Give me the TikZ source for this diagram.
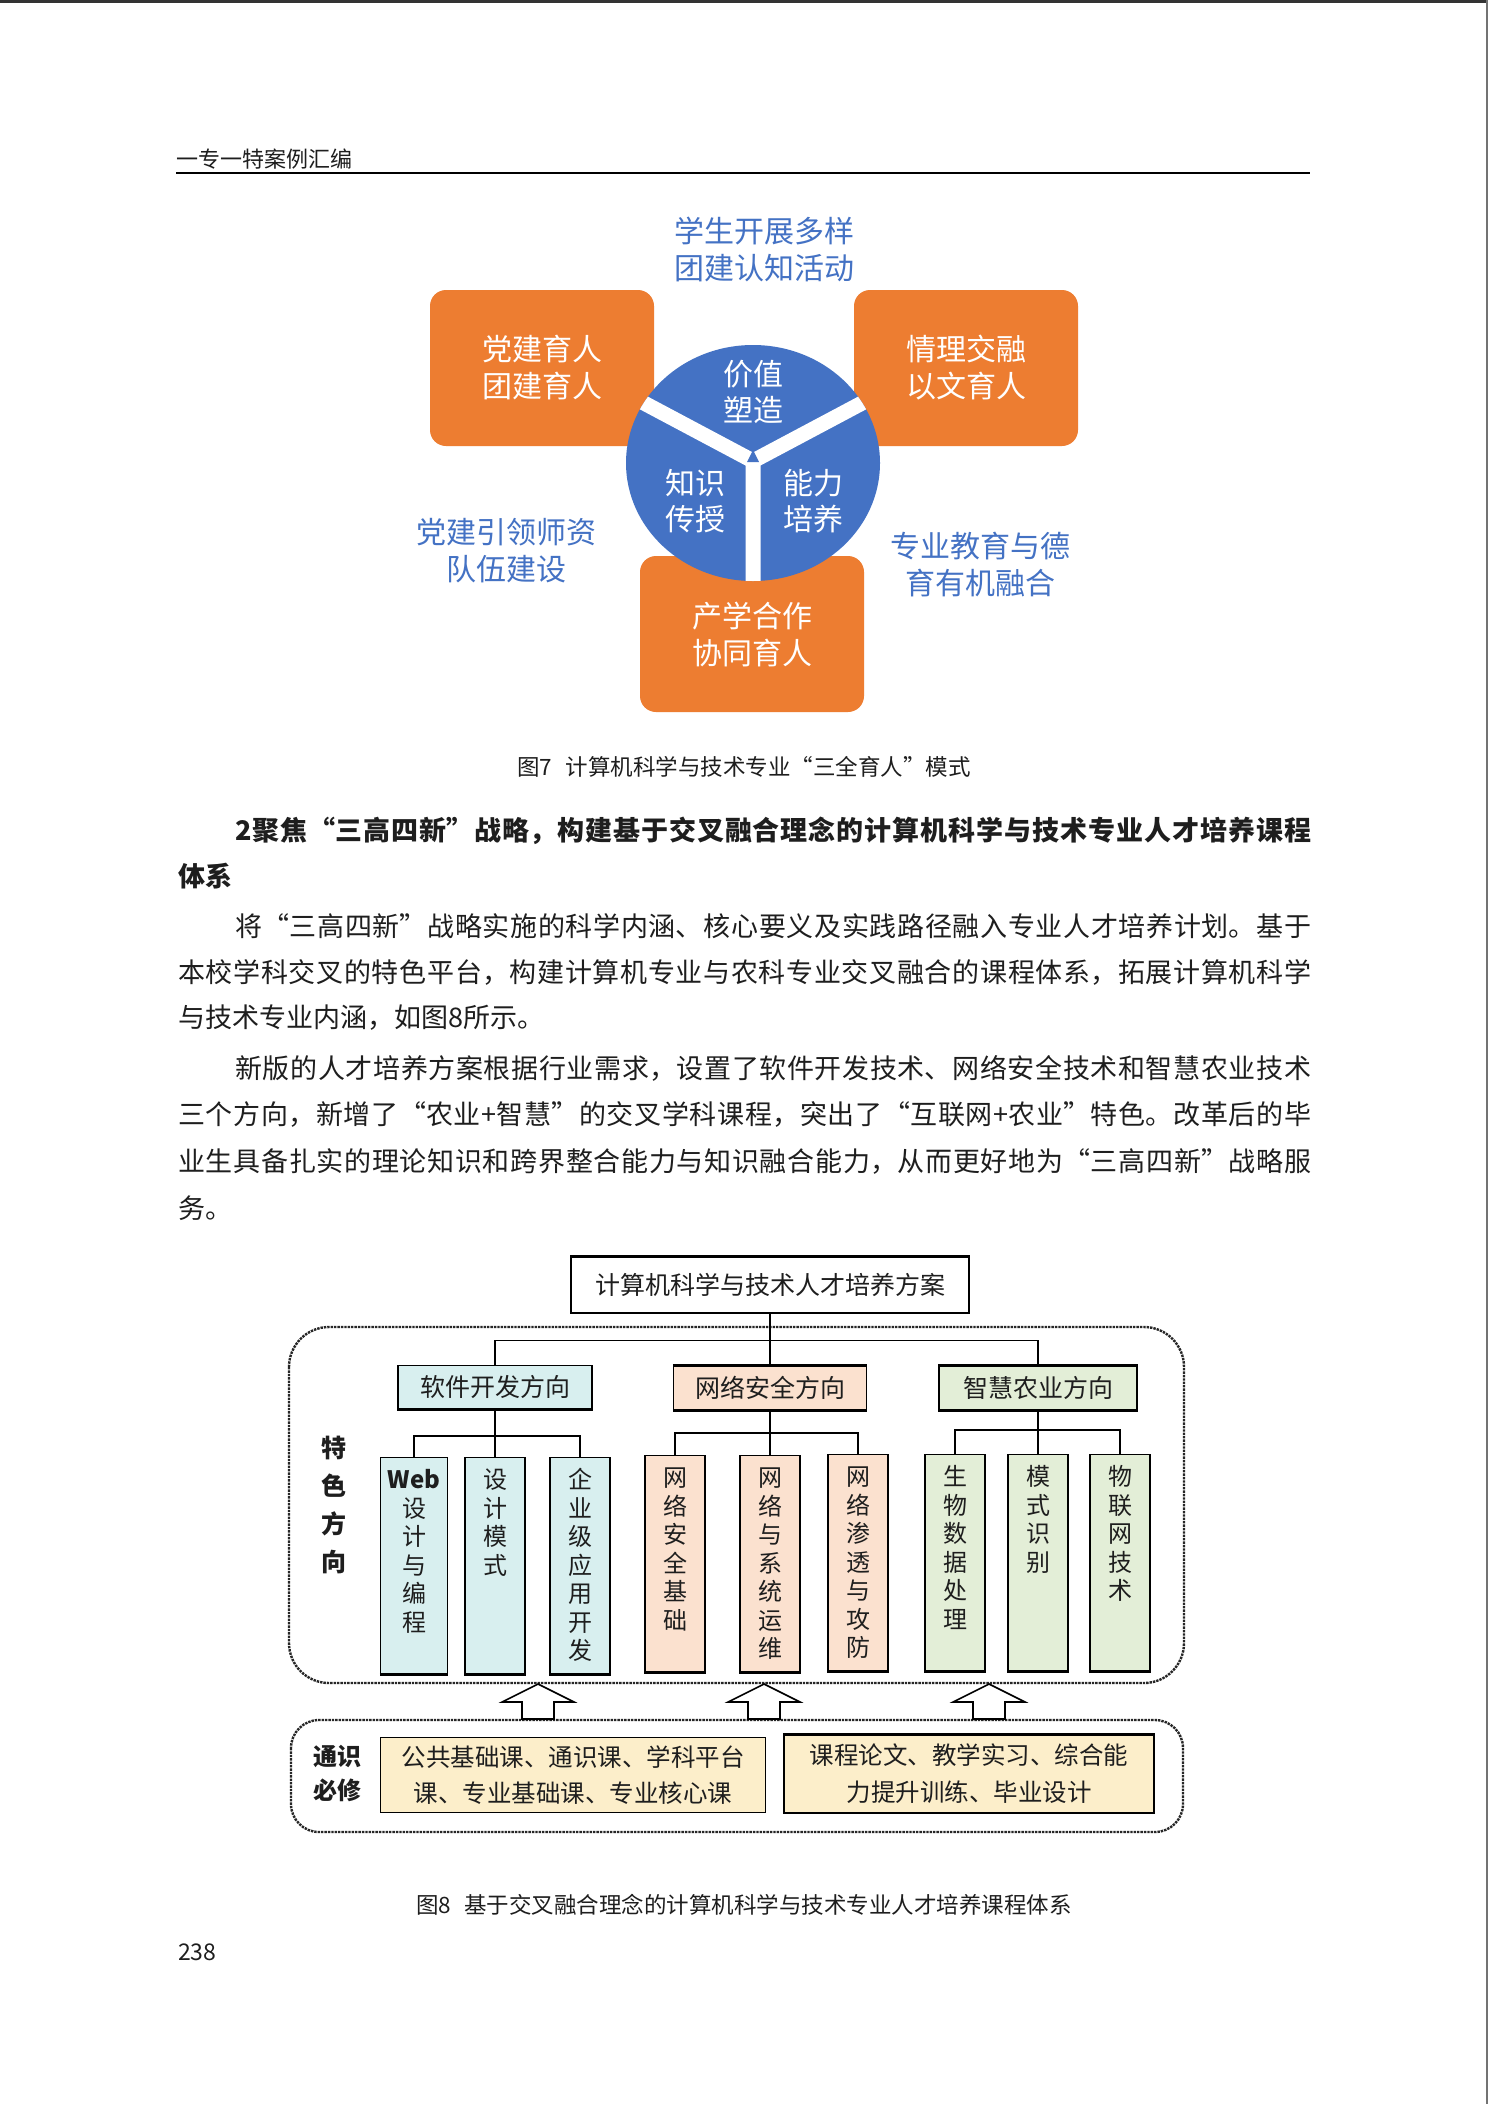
\documentclass[tikz,border=0pt]{standalone}
\usepackage{fontspec}
\setmainfont{Noto Sans CJK SC}
\usetikzlibrary{calc}
\definecolor{myorange}{RGB}{237, 125, 49}
\definecolor{myblue}{RGB}{68, 114, 196}
\definecolor{mytext}{RGB}{30, 30, 30}
\definecolor{boxcyan}{RGB}{216, 239, 239}
\definecolor{boxpeach}{RGB}{251, 225, 207}
\definecolor{boxgreen}{RGB}{227, 238, 215}
\definecolor{boxyellow}{RGB}{252, 238, 202}
\def\fsz#1#2{\fontsize{#1}{#2}\selectfont}
\def\uparr#1{
    \draw[line width=1.6pt, fill=white] (#1, 1684) -- (#1+36, 1702) -- (#1+16, 1702) -- (#1+16, 1719)
        -- (#1-16, 1719) -- (#1-16, 1702) -- (#1-36, 1702) -- cycle;
}
\newcommand{\jline}[2]{\parbox{#1}{\XeTeXlinebreaklocale "zh"\XeTeXlinebreakskip=0pt plus 4pt minus 1pt
    \parindent=0pt\parfillskip=0pt #2\par}}
\newcommand{\vstack}[1]{\parbox[c][210pt][t]{60pt}{\centering\fsz{24}{28.5}\rule{0pt}{28pt}#1}}

\begin{document}
\begin{tikzpicture}[x=1pt, y=-1pt]
\tikzset{
    body/.style={inner sep=0, anchor=west, text=mytext, font=\fsz{27}{47}},
    figcap/.style={inner sep=0, text=mytext, font=\fsz{22.5}{26}},
    obox/.style={fill=myorange, text=white, rounded corners=16pt, minimum width=224pt, minimum height=156pt,
        align=center, inner sep=0, font=\fsz{30}{37}},
    btext/.style={text=myblue, align=center, inner sep=0, font=\fsz{30}{37}},
    ctext/.style={text=white, align=center, inner sep=0, font=\fsz{30}{36}},
    cbox/.style={draw, line width=1.3pt, inner sep=0, text=mytext, font=\fsz{25}{30}},
    vbox/.style={cbox, anchor=north, minimum width=57pt, minimum height=216pt},
    conn/.style={line width=1.6pt},
    dotbox/.style={densely dotted, line width=2.4pt, black!85},
    side/.style={align=center, inner sep=0, text=mytext, font=\fsz{25}{38}\bfseries}
}
\useasboundingbox (0, 0) rectangle (1488, 2104);
\fill[white] (0, 0) rectangle (1488, 2104);
\draw[line width=3pt, black!80] (0, 1.5) -- (1488, 1.5);
\draw[line width=2pt, black!55] (1487, 0) -- (1487, 2104);

% running head
\node[inner sep=0, anchor=west, text=mytext, font=\fsz{22}{26}] (head) at (176, 159) {一专一特案例汇编};
\draw[line width=2pt] (176, 173) -- (1310, 173);

% figure 7
\node[btext] (top) at (764, 249) {学生开展多样\\团建认知活动};
\node[obox] (dangjian) at (542, 368) {党建育人\\团建育人};
\node[obox] (qingli) at (966, 368) {情理交融\\以文育人};
\node[obox] (chanxue) at (752, 634) {产学合作\\协同育人};
\fill[myblue] (753, 463) ellipse [x radius=127pt, y radius=118pt];
\begin{scope}
    \clip (753, 463) ellipse [x radius=127pt, y radius=118pt];
    \draw[white, line width=15pt] (753, 461) -- ++(28:220pt) (753, 461) -- ++(152:220pt) (753, 461) -- ++(270:220pt);
\end{scope}
\fill[myblue] (753, 450) -- (747, 462) -- (759, 462) -- cycle;
\node[ctext] (jiazhi) at (753, 392) {价值\\塑造};
\node[ctext] (zhishi) at (695, 501) {知识\\传授};
\node[ctext] (nengli) at (813, 501) {能力\\培养};
\node[btext] (shizi) at (506, 551) {党建引领师资\\队伍建设};
\node[btext] (deyu) at (980, 565) {专业教育与德\\育有机融合};
\node[figcap] (cap7) at (744, 767) {图7\hspace{0.6em}计算机科学与技术专业“三全育人”模式};

% body text
\node[body, font=\fsz{27}{47}\bfseries] (h1) at (235, 831)
    {\jline{1076pt}{2聚焦“三高四新”战略，构建基于交叉融合理念的计算机科学与技术专业人才培养课程}};
\node[body, font=\fsz{27}{47}\bfseries] (h2) at (178, 876) {体系};
\node[body] (p1a) at (235, 926) {\jline{1076pt}{将“三高四新”战略实施的科学内涵、核心要义及实践路径融入专业人才培养计划。基于}};
\node[body] (p1b) at (178, 972) {\jline{1133pt}{本校学科交叉的特色平台，构建计算机专业与农科专业交叉融合的课程体系，拓展计算机科学}};
\node[body] (p1c) at (178, 1018) {与技术专业内涵，如图8所示。};
\node[body] (p2a) at (235, 1068) {\jline{1076pt}{新版的人才培养方案根据行业需求，设置了软件开发技术、网络安全技术和智慧农业技术}};
\node[body] (p2b) at (178, 1114) {\jline{1133pt}{三个方向，新增了“农业+智慧”的交叉学科课程，突出了“互联网+农业”特色。改革后的毕}};
\node[body] (p2c) at (178, 1161) {\jline{1133pt}{业生具备扎实的理论知识和跨界整合能力与知识融合能力，从而更好地为“三高四新”战略服}};
\node[body] (p2d) at (178, 1208) {务。};

% figure 8
\draw[dotbox, rounded corners=40pt] (289, 1327) rectangle (1184, 1683);
\draw[dotbox, rounded corners=28pt] (291, 1720) rectangle (1183, 1832);

\node[cbox, minimum width=398pt, minimum height=56pt] (plan) at (770, 1285) {计算机科学与技术人才培养方案};
\node[cbox, fill=boxcyan, minimum width=194pt, minimum height=43pt] (soft) at (495, 1387) {软件开发方向};
\node[cbox, fill=boxpeach, minimum width=193pt, minimum height=43pt] (net) at (770, 1388) {网络安全方向};
\node[cbox, fill=boxgreen, minimum width=198pt, minimum height=43pt] (agri) at (1038, 1388) {智慧农业方向};

\node[vbox, fill=boxcyan, minimum width=67pt] (web) at (414, 1457) {\vstack{\textbf{Web}\\设\\计\\与\\编\\程}};
\node[vbox, fill=boxcyan] (dp) at (495, 1457) {\vstack{设\\计\\模\\式}};
\node[vbox, fill=boxcyan] (ent) at (580, 1457) {\vstack{企\\业\\级\\应\\用\\开\\发}};
\node[vbox, fill=boxpeach] (nsb) at (675, 1455) {\vstack{网\\络\\安\\全\\基\\础}};
\node[vbox, fill=boxpeach] (nso) at (770, 1455) {\vstack{网\\络\\与\\系\\统\\运\\维}};
\node[vbox, fill=boxpeach] (npt) at (858, 1454) {\vstack{网\\络\\渗\\透\\与\\攻\\防}};
\node[vbox, fill=boxgreen] (bio) at (955, 1454) {\vstack{生\\物\\数\\据\\处\\理}};
\node[vbox, fill=boxgreen] (pr) at (1038, 1454) {\vstack{模\\式\\识\\别}};
\node[vbox, fill=boxgreen] (iot) at (1120, 1454) {\vstack{物\\联\\网\\技\\术}};

\draw[conn] (plan.south) -- ++(0, 27) coordinate (bar) -| (soft.north);
\draw[conn] (bar) -| (agri.north);
\draw[conn] (bar) -- (net.north);
\draw[conn] (soft.south) -- ++(0, 27) coordinate (sbar) -| (web.north);
\draw[conn] (sbar) -| (ent.north);
\draw[conn] (sbar) -- (dp.north);
\draw[conn] (net.south) -- ++(0, 23) coordinate (nbar) -| (nsb.north);
\draw[conn] (nbar) -| (npt.north);
\draw[conn] (nbar) -- (nso.north);
\draw[conn] (agri.south) -- ++(0, 20) coordinate (abar) -| (bio.north);
\draw[conn] (abar) -| (iot.north);
\draw[conn] (abar) -- (pr.north);

\foreach \n in {soft, net, agri, web, dp, ent, nsb, nso, npt, bio, pr, iot}
    \draw[line width=3pt] (\n.south west) -- (\n.south east);
\foreach \n in {plan, net, agri}
    \draw[line width=3pt] (\n.north west) -- (\n.north east);

\node[side] (tese) at (334, 1505) {特\\色\\方\\向};

\uparr{538} \uparr{764} \uparr{989}

\node[side, font=\fsz{24}{34}\bfseries] (tongshi) at (337, 1773) {通识\\必修};
\node[cbox, fill=boxyellow, minimum width=385pt, minimum height=75pt, align=center, font=\fsz{24.5}{36}]
    (core) at (573, 1775) {公共基础课、通识课、学科平台\\课、专业基础课、专业核心课};
\node[cbox, fill=boxyellow, minimum width=370pt, minimum height=78pt, align=center, font=\fsz{24.5}{37}]
    (prac) at (969, 1774) {课程论文、教学实习、综合能\\力提升训练、毕业设计};
\draw[line width=3pt] (prac.north west) -- (prac.north east);

\node[figcap] (cap8) at (744, 1905) {图8\hspace{0.6em}基于交叉融合理念的计算机科学与技术专业人才培养课程体系};
\node[inner sep=0, anchor=west, text=mytext, font=\fsz{23}{26}] (pageno) at (178, 1952) {238};
\end{tikzpicture}
\end{document}
